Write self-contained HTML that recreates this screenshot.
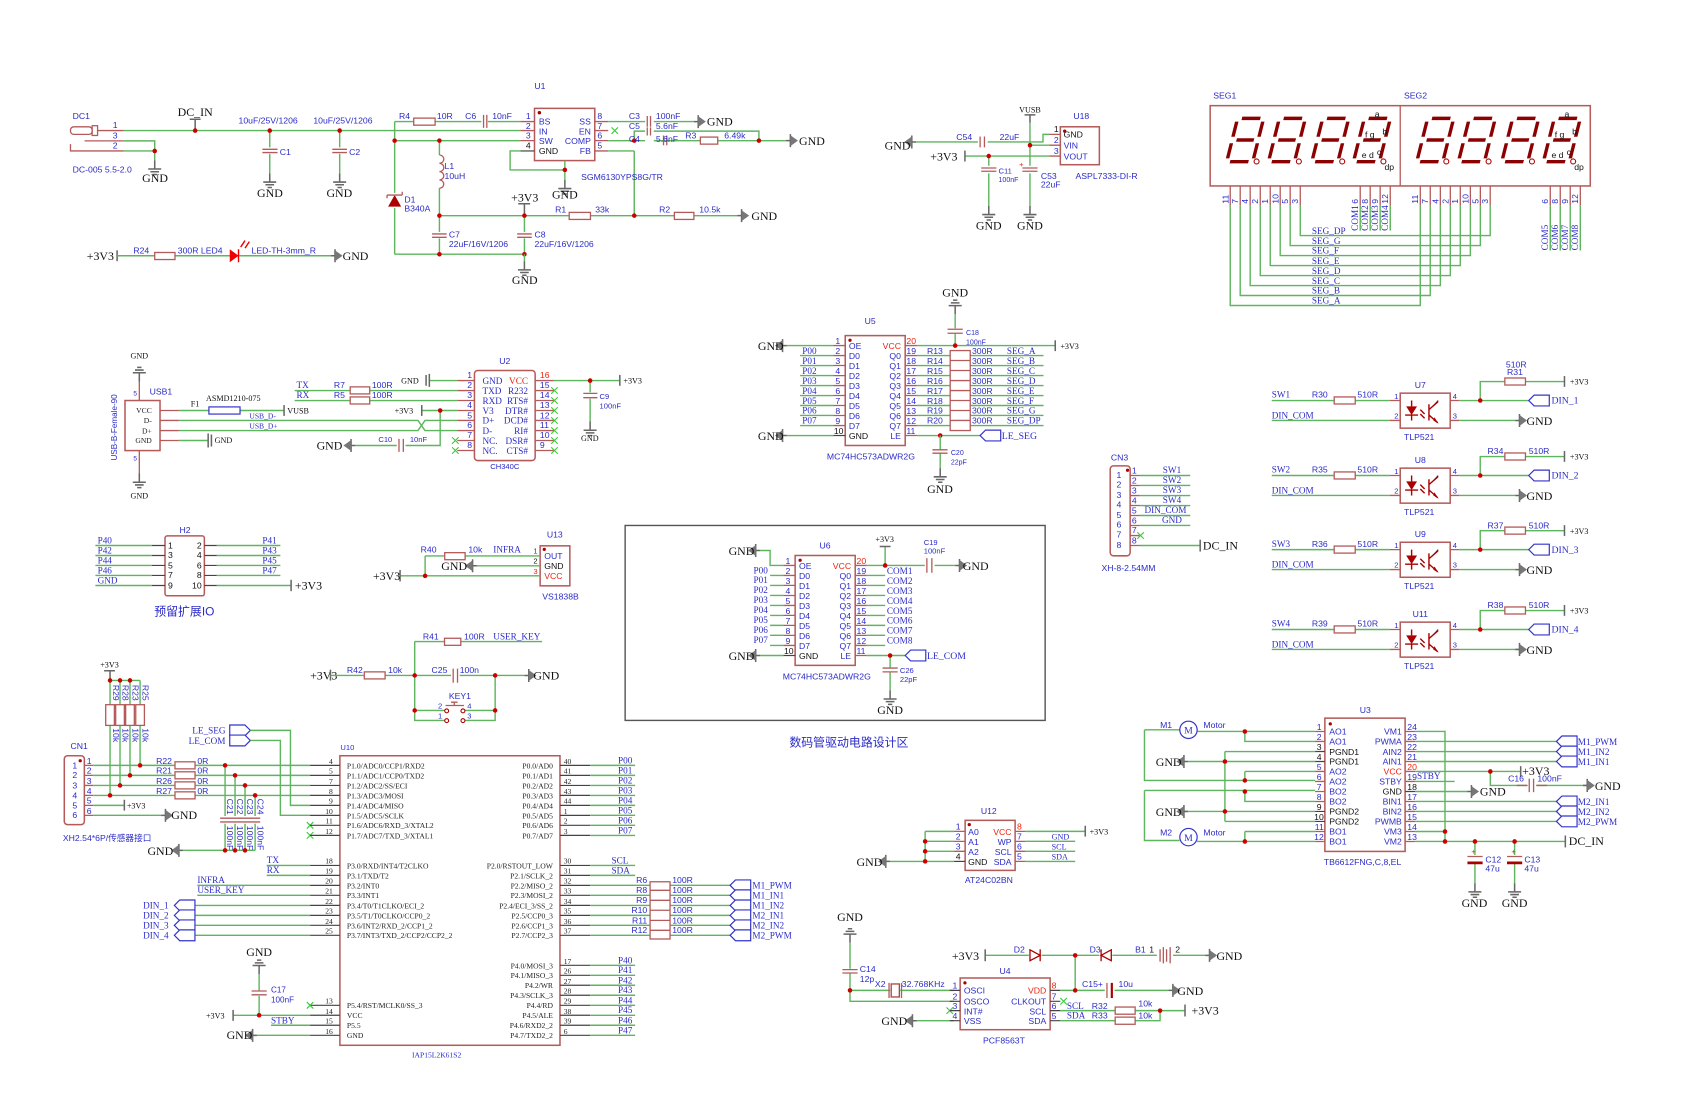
<!DOCTYPE html>
<html><head><meta charset="utf-8"><style>
html,body{margin:0;padding:0;background:#fff;}
svg{display:block}
.w{stroke:#5db55d;stroke-width:1.3;fill:none}
.p{stroke:#b45a5a;stroke-width:1.2;fill:none}
.q{stroke:#444;stroke-width:1.1;fill:none}
.bx{stroke:#b45a5a;stroke-width:1.4;fill:#fff}
.g{stroke:#666;stroke-width:1.4;fill:none}
.x{stroke:#3c3;stroke-width:1}
.rs{stroke:#b45a5a;stroke-width:1.2;fill:#fff}
.tg{stroke:#33c;stroke-width:1.1;fill:#fff}
text{font-family:"Liberation Sans","Noto Sans CJK SC",sans-serif;font-size:8px;fill:#2b2bc8}
.s{font-family:"Liberation Serif","Noto Serif CJK SC",serif;font-size:8.5px}
.k{font-family:"Liberation Serif",serif;font-size:11px;fill:#111}
.ks{font-family:"Liberation Serif",serif;font-size:7.5px;fill:#111}
.bk{fill:#111}
.rd{fill:#e21}
.pl{font-family:"Liberation Serif",serif;font-size:7px;fill:#222}
.m{text-anchor:middle}.e{text-anchor:end}
.seg{stroke:#8b0000;stroke-width:3.2;stroke-linecap:butt;fill:none}
</style></head><body>
<svg width="1700" height="1101" viewBox="0 0 1568 1016" preserveAspectRatio="none" xmlns="http://www.w3.org/2000/svg">
<defs>
<g id="gd"><path class="g" d="M0,0V8M-6,8H6M-4,10.5H4M-2,13H2"/></g>
<g id="gu"><path class="g" d="M0,0V-8M-6,-8H6M-4,-10.5H4M-2,-13H2"/></g>
<g id="al"><path class="g" d="M0,0H-4M-4,-6V6"/><path d="M-4,-5L-11,0L-4,5Z" fill="#777"/></g>
<g id="ar"><path class="g" d="M0,0H4M4,-6V6"/><path d="M4,-5L11,0L4,5Z" fill="#777"/></g>
<g id="dot"><circle r="2.1" fill="#c00"/></g>
<g id="tagL"><path class="tg" d="M0,0L5,-5H19V5H5Z"/></g>
<g id="tagR"><path class="tg" d="M0,-5H14L19,0L14,5H0Z"/></g>
<g id="dg"><path class="seg" d="M-8,-20H9M-8,0H8M-9,20H8M-12,-17V-3M12,-17V-3M-12,3V17M12,3V17"/></g>
<g id="xm"><path class="x" d="M-3,-3L3,3M-3,3L3,-3"/></g>
</defs>

<!-- ===== TOP LEFT: power ===== -->
<text x="67" y="110">DC1</text>
<rect x="65" y="117" width="20" height="7" class="p" rx="3"/><rect x="85" y="116" width="5" height="9" class="p"/>
<path class="p" d="M90,120.5H114M65,133V139.3H114M78,130H114"/>
<text x="104" y="118">1</text><text x="104" y="128">3</text><text x="104" y="137">2</text>
<path class="w" d="M114,120.5H480M114,130H142.7V139.3M114,139.3H142.7V148"/>
<use href="#dot" x="142.7" y="139.3"/><use href="#gd" x="142.7" y="148"/>
<text x="143" y="168" class="k m">GND</text>
<text x="67" y="159">DC-005 5.5-2.0</text>
<text x="180" y="107" class="k m">DC_IN</text><path class="g" d="M175,110H185M180,110V120.5"/><use href="#dot" x="180" y="120.5"/>
<text x="220" y="114">10uF/25V/1206</text><text x="289" y="114">10uF/25V/1206</text>
<path class="w" d="M248.8,120.5V136M313.3,120.5V136M248.8,142V160M313.3,142V160"/>
<path class="p" d="M242,137.8H256M242,140.8H256M306.5,137.8H320M306.5,140.8H320"/>
<use href="#dot" x="248.8" y="120.5"/><use href="#dot" x="313.3" y="120.5"/>
<use href="#gd" x="248.8" y="160"/><use href="#gd" x="313.3" y="160"/>
<text x="258" y="143">C1</text><text x="322" y="143">C2</text>
<text x="249" y="182" class="k m">GND</text><text x="313" y="182" class="k m">GND</text>
<path class="w" d="M364,112.2H480M364,112.2V234.6M364,129.8H480M405.3,129.8V143M405.3,173.7V234.6M364,234.6H483.7M405.3,199H585M483.7,199V234.6M585,139.3V199H680"/>
<rect class="rs" x="381.6" y="109" width="19.7" height="6.5"/><text x="368" y="110">R4</text><text x="403" y="110">10R</text>
<rect x="444" y="106" width="6" height="12" fill="#fff"/><path class="p" d="M446,106V118M449,106V118"/>
<text x="429" y="110">C6</text><text x="454" y="110">10nF</text>
<use href="#dot" x="364" y="129.8"/><use href="#dot" x="405.3" y="129.8"/>
<path class="p" d="M405.3,143a4,3.8 0 0 1 0,7.7a4,3.8 0 0 1 0,7.7a4,3.8 0 0 1 0,7.7a4,3.8 0 0 1 0,7.6"/>
<text x="410" y="156">L1</text><text x="410" y="165">10uH</text>
<rect x="358" y="178" width="12" height="14" fill="#fff"/><path d="M358,190.7H370L364,180Z" fill="#a00"/><path class="p" d="M357,180H371M357,180V183M371,180V177"/>
<text x="373" y="187">D1</text><text x="373" y="195">B340A</text>
<path class="g" d="M478,188H489M483.7,188V199"/><text x="484" y="186" class="k m">+3V3</text>
<use href="#dot" x="405.3" y="199"/><use href="#dot" x="483.7" y="199"/><use href="#dot" x="585" y="199"/>
<rect class="rs" x="525" y="196" width="19.6" height="6.5"/><text x="512" y="196">R1</text><text x="549" y="196">33k</text>
<rect class="rs" x="622" y="196" width="18" height="6.5"/><text x="608" y="196">R2</text><text x="645" y="196">10.5k</text>
<use href="#ar" x="680" y="199"/><text x="693" y="203" class="k">GND</text>
<rect x="398" y="214" width="15" height="6" fill="#fff"/><rect x="476" y="214" width="15" height="6" fill="#fff"/>
<path class="p" d="M398.5,215.9H412M398.5,219H412M477,215.9H490.5M477,219H490.5"/>
<text x="414" y="219">C7</text><text x="414" y="228">22uF/16V/1206</text>
<text x="493" y="219">C8</text><text x="493" y="228">22uF/16V/1206</text>
<use href="#dot" x="405.3" y="234.6"/><use href="#dot" x="483.7" y="234.6"/>
<path class="w" d="M483.7,234.6V241"/><use href="#gd" x="483.7" y="241"/><text x="484" y="262" class="k m">GND</text>
<!-- LED row -->
<text x="80" y="240" class="k">+3V3</text><path class="g" d="M108,231V241"/>
<path class="w" d="M108,236H305"/>
<rect class="rs" x="142.7" y="233" width="18.7" height="6.5"/><text x="123" y="234">R24</text><text x="164" y="234">300R LED4</text>
<path d="M211.9,230V242L220,236Z" fill="#e00"/><path stroke="#e00" stroke-width="1.3" d="M220,230V242M222,228L226,222M226,229L230,223"/>
<text x="232" y="234">LED-TH-3mm_R</text>
<use href="#ar" x="305" y="236"/><text x="316" y="240" class="k">GND</text>
<!-- U1 -->
<text x="498" y="82" class="m">U1</text>
<rect class="bx" x="493" y="100" width="55.6" height="48.2"/><circle cx="497.5" cy="104" r="1.6" fill="#a00"/>
<path class="p" d="M480,112.2H493M480,120.5H493M480,129.8H493M548.6,112.2H561M548.6,120.5H561M548.6,129.8H561M548.6,139.3H561"/>
<path class="q" d="M480,139.3H493"/>
<text x="485" y="110">1</text><text x="485" y="119">2</text><text x="485" y="128">3</text><text x="485" y="137" class="bk">4</text>
<text x="497" y="115">BS</text><text x="497" y="124">IN</text><text x="497" y="133">SW</text><text x="497" y="142" class="bk">GND</text>
<text x="545" y="115" class="e">SS</text><text x="545" y="124" class="e">EN</text><text x="545" y="133" class="e">COMP</text><text x="545" y="142" class="e">FB</text>
<text x="551" y="110">8</text><text x="551" y="119">7</text><text x="551" y="128">6</text><text x="551" y="137">5</text>
<path class="w" d="M480,139.3H470.5V156.8H521M521,148.2V166"/><use href="#dot" x="521" y="156.8"/><use href="#gd" x="521" y="166"/>
<text x="521" y="183" class="k m">GND</text>
<text x="536" y="166">SGM6130YPS8G/TR</text>
<use href="#xm" x="567" y="120.5"/>
<path class="w" d="M561,112.2H640M561,129.8H648M585,129.8V121H700V129.8M662,129.8H725M561,139.3H585"/>
<use href="#dot" x="585" y="129.8"/><use href="#dot" x="700" y="129.8"/>
<rect x="595" y="107" width="8" height="28" fill="#fff"/>
<path class="p" d="M597,107V117M600,107V117M597,117.5V125M600,117.5V125M612,125V134M615,125V134"/>
<text x="580" y="110">C3</text><text x="605" y="110">100nF</text>
<text x="580" y="119">C5</text><text x="605" y="119">5.6nF</text>
<text x="580" y="131">C4</text><text x="605" y="131">5.6nF</text>
<use href="#ar" x="640" y="112.2"/><text x="652" y="116" class="k">GND</text>
<rect class="rs" x="646" y="126.5" width="16" height="6.5"/><text x="632" y="128">R3</text><text x="668" y="128">6.49k</text>
<use href="#ar" x="725" y="129.8"/><text x="737" y="134" class="k">GND</text>

<!-- ===== U18 ===== -->
<text x="990" y="110">U18</text>
<rect class="bx" x="978" y="117" width="36" height="35"/><circle cx="982" cy="121" r="1.5" fill="#a00"/>
<text x="981" y="127" class="bk">GND</text><text x="981" y="137">VIN</text><text x="981" y="147">VOUT</text>
<path class="p" d="M968,124H978M968,134H978M968,144H978"/>
<text x="972" y="122" class="bk">1</text><text x="972" y="132">2</text><text x="972" y="142">3</text>
<text x="950" y="104" class="ks m">VUSB</text><path class="g" d="M945,106H955M950,106V113"/>
<path class="w" d="M950,113V190M950,134H968M845,131H962V124H968M890,144H968M912,144V190"/>
<use href="#al" x="845" y="131"/><text x="816" y="138" class="k">GND</text>
<rect x="902" y="126" width="9" height="10" fill="#fff"/><path class="p" d="M904,126V136M908,126V136"/>
<text x="882" y="129">C54</text><text x="922" y="129">22uF</text>
<text x="858" y="148" class="k">+3V3</text><path class="g" d="M890,139V149"/>
<use href="#dot" x="912" y="144"/><use href="#dot" x="950" y="134"/>
<rect x="904" y="153" width="16" height="7" fill="#fff"/><rect x="942" y="153" width="16" height="7" fill="#fff"/>
<path class="p" d="M905,155H919M905,158H919M943,155H957M943,158H957"/><text x="940" y="154" class="rd" style="font-size:7px">+</text>
<text x="921" y="160" style="font-size:7px">C11</text><text x="921" y="168" style="font-size:6.5px">100nF</text>
<text x="960" y="165">C53</text><text x="960" y="173">22uF</text>
<use href="#gd" x="912" y="190"/><use href="#gd" x="950" y="190"/>
<text x="912" y="212" class="k m">GND</text><text x="950" y="212" class="k m">GND</text>
<text x="992" y="165">ASPL7333-DI-R</text>

<!-- ===== SEG displays ===== -->
<text x="1119" y="91">SEG1</text><text x="1295" y="91">SEG2</text>
<rect class="bx" x="1116.2" y="97.5" width="350.6" height="74.1" fill="none"/><path class="p" d="M1291.5,97.5V171.6"/>
<g transform="translate(1148.5,129.2) skewX(-14)"><use href="#dg"/></g><circle cx="1159" cy="149" r="2.3" fill="none" stroke="#a00"/>
<g transform="translate(1187,129.2) skewX(-14)"><use href="#dg"/></g><circle cx="1198" cy="149" r="2.3" fill="none" stroke="#a00"/>
<g transform="translate(1227,129.2) skewX(-14)"><use href="#dg"/></g><circle cx="1238" cy="149" r="2.3" fill="none" stroke="#a00"/>
<g transform="translate(1265.4,129.2) skewX(-14)"><use href="#dg"/></g><circle cx="1276" cy="149" r="2.3" fill="none" stroke="#a00"/>
<g transform="translate(1323.8,129.2) skewX(-14)"><use href="#dg"/></g><circle cx="1334" cy="149" r="2.3" fill="none" stroke="#a00"/>
<g transform="translate(1362.2,129.2) skewX(-14)"><use href="#dg"/></g><circle cx="1373" cy="149" r="2.3" fill="none" stroke="#a00"/>
<g transform="translate(1402.2,129.2) skewX(-14)"><use href="#dg"/></g><circle cx="1413" cy="149" r="2.3" fill="none" stroke="#a00"/>
<g transform="translate(1440.6,129.2) skewX(-14)"><use href="#dg"/></g><circle cx="1451" cy="149" r="2.3" fill="none" stroke="#a00"/>
<g class="bk" style="font-size:7.5px"><text x="1268" y="108" class="bk">a</text><text x="1259" y="127" class="bk">f g</text><text x="1275" y="124" class="bk">b</text><text x="1256" y="146" class="bk">e d</text><text x="1270" y="143" class="bk">c</text><text x="1277" y="157" class="bk">dp</text>
<text x="1443" y="108" class="bk">a</text><text x="1434" y="127" class="bk">f g</text><text x="1450" y="124" class="bk">b</text><text x="1431" y="146" class="bk">e d</text><text x="1445" y="143" class="bk">c</text><text x="1452" y="157" class="bk">dp</text></g>
<path class="p" d="M1134.7,171.6V189.7M1143.9,171.6V189.7M1153.1,171.6V189.7M1162.4,171.6V189.7M1171.6,171.6V189.7M1180.8,171.6V189.7M1190,171.6V189.7M1199.3,171.6V189.7M1254.6,171.6V189.7M1263.8,171.6V189.7M1273,171.6V189.7M1282.3,171.6V189.7M1310,171.6V189.7M1319.2,171.6V189.7M1328.5,171.6V189.7M1337.7,171.6V189.7M1346.9,171.6V189.7M1356.2,171.6V189.7M1365.4,171.6V189.7M1374.5,171.6V189.7M1429.9,171.6V189.7M1439.1,171.6V189.7M1448.3,171.6V189.7M1457.6,171.6V189.7"/>
<path class="w" d="M1199.3,189.7V217.4H1374.5V189.7M1190,189.7V226.6H1365.4V189.7M1180.8,189.7V235.8H1356.2V189.7M1171.6,189.7V245.1H1346.9V189.7M1162.4,189.7V254.3H1337.7V189.7M1153.1,189.7V263.5H1328.5V189.7M1143.9,189.7V272.7H1319.2V189.7M1134.7,189.7V281.9H1310V189.7M1254.6,189.7V212.8M1263.8,189.7V212.8M1273,189.7V212.8M1282.3,189.7V212.8M1429.9,189.7V231.2M1439.1,189.7V231.2M1448.3,189.7V231.2M1457.6,189.7V231.2"/>
<g class="s"><text x="1210" y="216" class="s">SEG_DP</text><text x="1210" y="225" class="s">SEG_G</text><text x="1210" y="234" class="s">SEG_F</text><text x="1210" y="243.5" class="s">SEG_E</text><text x="1210" y="252.7" class="s">SEG_D</text><text x="1210" y="262" class="s">SEG_C</text><text x="1210" y="271" class="s">SEG_B</text><text x="1210" y="280.3" class="s">SEG_A</text></g>
<g style="font-size:8px">
<text transform="translate(1133,188) rotate(-90)">11</text><text transform="translate(1142,188) rotate(-90)">7</text><text transform="translate(1151,188) rotate(-90)">4</text><text transform="translate(1160.5,188) rotate(-90)">2</text><text transform="translate(1169.7,188) rotate(-90)">1</text><text transform="translate(1179,188) rotate(-90)">10</text><text transform="translate(1188,188) rotate(-90)">5</text><text transform="translate(1197.4,188) rotate(-90)">3</text>
<text transform="translate(1252.7,188) rotate(-90)">6</text><text transform="translate(1262,188) rotate(-90)">8</text><text transform="translate(1271,188) rotate(-90)">9</text><text transform="translate(1280.4,188) rotate(-90)">12</text>
<text transform="translate(1308,188) rotate(-90)">11</text><text transform="translate(1317.3,188) rotate(-90)">7</text><text transform="translate(1326.6,188) rotate(-90)">4</text><text transform="translate(1335.8,188) rotate(-90)">2</text><text transform="translate(1345,188) rotate(-90)">1</text><text transform="translate(1354.3,188) rotate(-90)">10</text><text transform="translate(1363.5,188) rotate(-90)">5</text><text transform="translate(1372.6,188) rotate(-90)">3</text>
<text transform="translate(1428,188) rotate(-90)">6</text><text transform="translate(1437.2,188) rotate(-90)">8</text><text transform="translate(1446.4,188) rotate(-90)">9</text><text transform="translate(1455.7,188) rotate(-90)">12</text>
</g>
<g class="s" style="font-size:7.5px"><text transform="translate(1252.7,213) rotate(-90)" class="s">COM1</text><text transform="translate(1262,213) rotate(-90)" class="s">COM2</text><text transform="translate(1271,213) rotate(-90)" class="s">COM3</text><text transform="translate(1280.4,213) rotate(-90)" class="s">COM4</text>
<text transform="translate(1428,231) rotate(-90)" class="s">COM5</text><text transform="translate(1437.2,231) rotate(-90)" class="s">COM6</text><text transform="translate(1446.4,231) rotate(-90)" class="s">COM7</text><text transform="translate(1455.7,231) rotate(-90)" class="s">COM8</text></g>

<!-- ===== USB / CH340 ===== -->
<text transform="translate(108,425) rotate(-90)" style="font-size:7.5px">USB-B-Female-90</text>
<text x="128.5" y="331" class="ks m">GND</text><use href="#gu" x="128.5" y="352"/><path class="p" d="M128.5,352V369.6M128.5,415.8V437"/>
<text x="123" y="365" style="font-size:6px">5</text><text x="123" y="425" style="font-size:6px">5</text>
<use href="#gd" x="128.5" y="437"/><text x="128.5" y="460" class="ks m">GND</text>
<text x="138" y="364">USB1</text>
<rect class="bx" x="115.3" y="369.6" width="32.3" height="46.2"/>
<g class="pl" style="font-size:7.5px"><text x="140" y="381" class="pl e">VCC</text><text x="140" y="390.5" class="pl e">D-</text><text x="140" y="400" class="pl e">D+</text><text x="140" y="409" class="pl e">GND</text></g>
<path class="p" d="M147.6,378.8H165M147.6,388H165M147.6,397.3H165M147.6,406.5H165"/>
<path class="w" d="M165,378.8H262M165,388H385.5L392,397.3H421.8M165,397.3H385.5L392,388H421.8M165,406.5H192"/>
<path class="g" d="M192,400V413M195,401V412"/><text x="198" y="409" class="ks">GND</text>
<text x="176" y="375" class="ks">F1</text><text x="190" y="370" class="ks">ASMD1210-075</text>
<rect x="192.7" y="375.5" width="28.7" height="6.6" fill="#fff" stroke="#33c" stroke-width="1.1"/>
<path class="g" d="M262,373.8V383.8"/><text x="265" y="381.5" class="ks">VUSB</text>
<text x="230" y="386" class="s" style="font-size:7px">USB_D-</text><text x="230" y="395.5" class="s" style="font-size:7px">USB_D+</text>
<text x="465.6" y="336" class="m">U2</text>
<rect class="bx" x="437.6" y="341.9" width="56" height="83.1" rx="3"/>
<path class="p" d="M421.8,351.2H437.6M421.8,360.4H437.6M421.8,369.6H437.6M421.8,378.8H437.6M421.8,388H437.6M421.8,397.3H437.6M421.8,406.5H437.6M421.8,415.7H437.6M493.6,351.2H510.7M493.6,360.4H510.7M493.6,369.6H510.7M493.6,378.8H510.7M493.6,388H510.7M493.6,397.3H510.7M493.6,406.5H510.7M493.6,415.7H510.7"/>
<g style="font-size:7px"><text x="431" y="349">1</text><text x="431" y="358">2</text><text x="431" y="367.5">3</text><text x="431" y="376.5">4</text><text x="431" y="386">5</text><text x="431" y="395">6</text><text x="431" y="404">7</text><text x="431" y="413.5">8</text>
<text x="498" y="349" class="rd">16</text><text x="498" y="358">15</text><text x="498" y="367.5">14</text><text x="498" y="376.5">13</text><text x="498" y="386">12</text><text x="498" y="395">11</text><text x="498" y="404">10</text><text x="498" y="413.5">9</text></g>
<g style="font-size:7.5px"><text x="445" y="354.5" class="s">GND</text><text x="445" y="363.7" class="s">TXD</text><text x="445" y="373" class="s">RXD</text><text x="445" y="382" class="s">V3</text><text x="445" y="391" class="s">D+</text><text x="445" y="400.5" class="s">D-</text><text x="445" y="409.7" class="s">NC.</text><text x="445" y="419" class="s">NC.</text>
<text x="487" y="354.5" class="s e rd">VCC</text><text x="487" y="363.7" class="s e">R232</text><text x="487" y="373" class="s e">RTS#</text><text x="487" y="382" class="s e">DTR#</text><text x="487" y="391" class="s e">DCD#</text><text x="487" y="400.5" class="s e">RI#</text><text x="487" y="409.7" class="s e">DSR#</text><text x="487" y="419" class="s e">CTS#</text></g>
<use href="#xm" x="511.4" y="360.4"/><use href="#xm" x="511.4" y="369.6"/><use href="#xm" x="511.4" y="378.8"/><use href="#xm" x="511.4" y="388"/><use href="#xm" x="511.4" y="397.3"/><use href="#xm" x="511.4" y="406.5"/><use href="#xm" x="511.4" y="415.7"/>
<use href="#xm" x="420" y="406.5"/><use href="#xm" x="420" y="415.7"/>
<text x="465.6" y="433" class="m" style="font-size:7px">CH340C</text>
<path class="w" d="M396,351.2H421.8M271.8,360.4H421.8M271.8,369.6H421.8M389,378.8H421.8M406,378.8V411.1H327.8"/>
<path class="g" d="M396,345V357M393,346V356"/><text x="370" y="354" class="ks">GND</text>
<rect class="rs" x="323" y="357" width="18" height="6.5"/><rect class="rs" x="323" y="366.3" width="18" height="6.5"/>
<text x="273.5" y="358" class="s">TX</text><text x="273.5" y="367.5" class="s">RX</text>
<text x="308" y="358">R7</text><text x="308" y="367.5">R5</text><text x="343" y="358">100R</text><text x="343" y="367.5">100R</text>
<path class="g" d="M389,373.8V383.8"/><text x="364" y="381.5" class="ks">+3V3</text>
<use href="#dot" x="406" y="378.8"/>
<rect x="366" y="405" width="8" height="12" fill="#fff"/><path class="p" d="M368,405V417M372,405V417"/>
<text x="349" y="408" style="font-size:7px">C10</text><text x="378" y="408" style="font-size:7px">10nF</text>
<use href="#al" x="327.8" y="411.1"/><text x="292" y="415" class="k">GND</text>
<path class="w" d="M510.7,351.2H571.7M544.3,351.2V362M544.3,368V389"/><use href="#dot" x="544.3" y="351.2"/>
<path class="g" d="M571.7,346V356"/><text x="575" y="354" class="ks">+3V3</text>
<path class="p" d="M538,363H551M538,367H551"/><text x="553" y="368" style="font-size:7px">C9</text><text x="553" y="377" style="font-size:7px">100nF</text>
<use href="#gd" x="544.3" y="389"/><text x="544" y="407" class="ks m">GND</text>

<!-- ===== H2 ===== -->
<text x="170.7" y="492" class="m">H2</text>
<rect class="bx" x="152.2" y="494.5" width="36.3" height="55.3" rx="2"/>
<g class="bk" style="font-size:8.5px"><text x="155" y="506" class="bk">1</text><text x="155" y="515" class="bk">3</text><text x="155" y="524.5" class="bk">5</text><text x="155" y="533.5" class="bk">7</text><text x="155" y="543" class="bk">9</text>
<text x="186" y="506" class="bk e">2</text><text x="186" y="515" class="bk e">4</text><text x="186" y="524.5" class="bk e">6</text><text x="186" y="533.5" class="bk e">8</text><text x="186" y="543" class="bk e">10</text></g>
<path class="q" d="M140,503.4H152.2M140,512.6H152.2M140,521.8H152.2M140,531H152.2M140,540.3H152.2M188.5,503.4H200M188.5,512.6H200M188.5,521.8H200M188.5,531H200M188.5,540.3H200"/>
<path class="w" d="M88,503.4H140M88,512.6H140M88,521.8H140M88,531H140M88,540.3H140M200,503.4H258.6M200,512.6H258.6M200,521.8H258.6M200,531H258.6M200,540.3H268.5"/>
<g class="s"><text x="90" y="501.5" class="s">P40</text><text x="90" y="510.7" class="s">P42</text><text x="90" y="520" class="s">P44</text><text x="90" y="529" class="s">P46</text><text x="90" y="538.5" class="s">GND</text>
<text x="242" y="501.5" class="s">P41</text><text x="242" y="510.7" class="s">P43</text><text x="242" y="520" class="s">P45</text><text x="242" y="529" class="s">P47</text></g>
<path class="g" d="M268.5,535V545.5"/><text x="272" y="544" class="k">+3V3</text>
<text x="170" y="568" class="m" style="font-size:11px">预留扩展IO</text>

<!-- ===== U13 ===== -->
<text x="511.7" y="496" class="m">U13</text>
<rect class="bx" x="498.2" y="503.7" width="27.4" height="36.9"/><circle cx="502" cy="507" r="1.5" fill="#a00"/>
<text x="502" y="516">OUT</text><text x="502" y="525" class="bk">GND</text><text x="502" y="534.5" class="rd">VCC</text>
<text x="492" y="511" style="font-size:7px">1</text><text x="492" y="520" class="bk" style="font-size:7px">2</text><text x="492" y="529.5" class="rd" style="font-size:7px">3</text>
<path class="w" d="M392.1,513H498.2M439.9,522.1H498.2M369,531.4H498.2M392.1,513V531.4"/>
<rect class="rs" x="410.2" y="510" width="18.8" height="6.5"/>
<text x="388" y="510">R40</text><text x="432" y="510">10k</text><text x="455" y="510" class="s">INFRA</text>
<use href="#al" x="439.9" y="522.1"/><text x="407" y="526" class="k">GND</text>
<path class="g" d="M369,526V536.5"/><text x="344" y="535" class="k">+3V3</text><use href="#dot" x="392.1" y="531.4"/>
<text x="517" y="553" class="m">VS1838B</text>

<!-- ===== KEY ===== -->
<text x="286" y="627" class="k">+3V3</text><path class="g" d="M304.8,618V628"/>
<path class="w" d="M304.8,623.3H483.7M382.5,592H412M382.5,592V664.8H410.5M382.5,655.6H410.5M456.7,623.3V664.8H428.7M456.7,655.6H428.7M425,592H500"/>
<rect class="rs" x="336" y="620" width="19.2" height="6.5"/><text x="320" y="621">R42</text><text x="358" y="621">10k</text>
<rect x="416" y="617" width="8" height="13" fill="#fff"/><path class="p" d="M418,617V630M422,617V630"/><text x="398" y="621">C25</text><text x="424" y="621">100n</text>
<use href="#dot" x="382.5" y="623.3"/><use href="#dot" x="456.7" y="623.3"/><use href="#dot" x="382.5" y="655.6"/><use href="#dot" x="456.7" y="655.6"/>
<use href="#ar" x="483.7" y="623.3"/><text x="492" y="627" class="k">GND</text>
<rect class="rs" x="410" y="589" width="15" height="6.5"/><text x="390" y="590">R41</text><text x="428" y="590">100R</text><text x="455" y="590" class="s">USER_KEY</text>
<text x="414" y="645">KEY1</text>
<path class="p" d="M411,651H428M419,651V648M416,648H422"/>
<circle cx="412" cy="656" r="1.8" fill="#fff" stroke="#a00"/><circle cx="427" cy="656" r="1.8" fill="#fff" stroke="#a00"/><circle cx="412" cy="665" r="1.8" fill="#fff" stroke="#a00"/><circle cx="427" cy="665" r="1.8" fill="#fff" stroke="#a00"/>
<text x="404" y="654" style="font-size:7px">2</text><text x="404" y="663" style="font-size:7px">1</text><text x="431" y="654" style="font-size:7px">4</text><text x="431" y="663" style="font-size:7px">3</text>

<!-- ===== CN1 / U10 ===== -->
<text x="101" y="616" class="ks m">+3V3</text><path class="g" d="M96,619H106M101.5,619V627.9"/>
<path class="w" d="M101.5,627.9H129.2M101.5,627.9V650.3M110.7,627.9V650.3M119.9,627.9V650.3M129.2,627.9V650.3M101.5,669.4V734M110.7,669.4V724.8M119.9,669.4V715.5M129.2,669.4V706.3"/>
<use href="#dot" x="101.5" y="627.9"/><use href="#dot" x="110.7" y="627.9"/><use href="#dot" x="119.9" y="627.9"/>
<rect class="rs" x="97.5" y="650.3" width="8" height="19.1"/><rect class="rs" x="106.7" y="650.3" width="8" height="19.1"/><rect class="rs" x="115.9" y="650.3" width="8" height="19.1"/><rect class="rs" x="125.2" y="650.3" width="8" height="19.1"/>
<g style="font-size:7px"><text transform="translate(104,632) rotate(90)">R29</text><text transform="translate(113,632) rotate(90)">R28</text><text transform="translate(122,632) rotate(90)">R23</text><text transform="translate(131.5,632) rotate(90)">R25</text>
<text transform="translate(104,672) rotate(90)">10k</text><text transform="translate(113,672) rotate(90)">10k</text><text transform="translate(122,672) rotate(90)">10k</text><text transform="translate(131.5,672) rotate(90)">10k</text></g>
<text x="65" y="691">CN1</text>
<rect class="bx" x="59.3" y="697.4" width="18.5" height="63.6" rx="3"/><circle cx="74" cy="702" r="1.5" fill="#a00"/>
<g style="font-size:8px"><text x="69" y="709" class="m">1</text><text x="69" y="718" class="m">2</text><text x="69" y="727.5" class="m">3</text><text x="69" y="737" class="m">4</text><text x="69" y="746" class="m">5</text><text x="69" y="755" class="m">6</text>
<text x="80" y="705">1</text><text x="80" y="714">2</text><text x="80" y="723.5">3</text><text x="80" y="732.5">4</text><text x="80" y="741.5">5</text><text x="80" y="751">6</text></g>
<path class="p" d="M77.8,706.3H86M77.8,715.5H86M77.8,724.8H86M77.8,734H86M77.8,743.2H86M77.8,752.4H86"/>
<path class="w" d="M86,706.3H161.4M86,715.5H161.4M86,724.8H161.4M86,734H161.4M179.9,706.3H286M179.9,715.5H286M179.9,724.8H286M179.9,734H286M86,743.2H114.7M86,752.4H148.6"/>
<use href="#dot" x="129.2" y="706.3"/><use href="#dot" x="119.9" y="715.5"/><use href="#dot" x="110.7" y="724.8"/><use href="#dot" x="101.5" y="734"/>
<rect class="rs" x="161.4" y="703" width="18.5" height="6.5"/><rect class="rs" x="161.4" y="712.2" width="18.5" height="6.5"/><rect class="rs" x="161.4" y="721.5" width="18.5" height="6.5"/><rect class="rs" x="161.4" y="730.7" width="18.5" height="6.5"/>
<text x="144" y="705">R22</text><text x="144" y="714">R21</text><text x="144" y="723.5">R26</text><text x="144" y="732.5">R27</text>
<text x="182" y="705">0R</text><text x="182" y="714">0R</text><text x="182" y="723.5">0R</text><text x="182" y="732.5">0R</text>
<path class="g" d="M114.7,738V748"/><text x="117" y="746" class="ks">+3V3</text>
<use href="#ar" x="148.6" y="752.4"/><text x="158" y="756" class="k">GND</text>
<text x="58" y="776">XH2.54*6P/传感器接口</text>
<path class="w" d="M207.6,706.3V753M216.8,715.5V753M226,724.8V753M235.3,734V753M207.6,760V784.7M216.8,760V784.7M226,760V784.7M235.3,760V784.7M169,784.7H235.3"/>
<use href="#dot" x="207.6" y="706.3"/><use href="#dot" x="216.8" y="715.5"/><use href="#dot" x="226" y="724.8"/><use href="#dot" x="235.3" y="734"/>
<use href="#dot" x="207.6" y="784.7"/><use href="#dot" x="216.8" y="784.7"/><use href="#dot" x="226" y="784.7"/>
<path class="p" d="M203,755H240M203,758.5H240"/>
<g style="font-size:6.5px"><text transform="translate(209.5,737) rotate(90)">C21</text><text transform="translate(218.7,737) rotate(90)">C22</text><text transform="translate(228,737) rotate(90)">C23</text><text transform="translate(237.3,737) rotate(90)">C24</text>
<text transform="translate(209.5,762) rotate(90)">100nF</text><text transform="translate(218.7,762) rotate(90)">100nF</text><text transform="translate(228,762) rotate(90)">100nF</text><text transform="translate(237.3,762) rotate(90)">100nF</text></g>
<use href="#al" x="169" y="784.7"/><text x="136" y="789" class="k">GND</text>
<use href="#tagR" x="211.9" y="674"/><use href="#tagR" x="211.9" y="683.3"/>
<text x="208" y="677" class="s e">LE_SEG</text><text x="208" y="686.5" class="s e">LE_COM</text>
<path class="w" d="M230.9,674H267.9V743.2H286M230.9,683.3H258.6V752.4H286"/>
<use href="#xm" x="286" y="761.6"/><use href="#xm" x="286" y="770.9"/>
<text x="314" y="692" style="font-size:7px">U10</text>
<rect class="bx" x="313.5" y="697.4" width="203" height="267.2" fill="none"/>
<path class="q" d="M286,706.3H313.5M286,715.5H313.5M286,724.8H313.5M286,734H313.5M286,743.2H313.5M286,752.4H313.5M286,761.6H313.5M286,770.9H313.5M286,798.6H313.5M286,807.8H313.5M286,817H313.5M286,826.2H313.5M286,835.5H313.5M286,844.7H313.5M286,853.9H313.5M286,863.1H313.5M286,927.7H313.5M286,936.9H313.5M286,946.1H313.5M286,955.4H313.5
M516.5,706.3H544.3M516.5,715.5H544.3M516.5,724.8H544.3M516.5,734H544.3M516.5,743.2H544.3M516.5,752.4H544.3M516.5,761.6H544.3M516.5,770.9H544.3M516.5,798.6H544.3M516.5,807.8H544.3M516.5,817H544.3M516.5,826.2H544.3M516.5,835.5H544.3M516.5,844.7H544.3M516.5,853.9H544.3M516.5,863.1H544.3M516.5,890.8H544.3M516.5,900H544.3M516.5,909.2H544.3M516.5,918.4H544.3M516.5,927.7H544.3M516.5,936.9H544.3M516.5,946.1H544.3M516.5,955.4H544.3"/>
<g class="pl" style="font-size:7px">
<text x="307" y="705" class="pl e">4</text><text x="307" y="714" class="pl e">5</text><text x="307" y="723.5" class="pl e">7</text><text x="307" y="732.5" class="pl e">8</text><text x="307" y="741.5" class="pl e">9</text><text x="307" y="751" class="pl e">10</text><text x="307" y="760" class="pl e">11</text><text x="307" y="769.5" class="pl e">12</text>
<text x="307" y="797" class="pl e">18</text><text x="307" y="806" class="pl e">19</text><text x="307" y="815.5" class="pl e">20</text><text x="307" y="824.5" class="pl e">21</text><text x="307" y="834" class="pl e">22</text><text x="307" y="843" class="pl e">23</text><text x="307" y="852.5" class="pl e">24</text><text x="307" y="861.5" class="pl e">25</text>
<text x="307" y="926" class="pl e">13</text><text x="307" y="935.5" class="pl e">14</text><text x="307" y="944.5" class="pl e">15</text><text x="307" y="954" class="pl e">16</text>
<text x="520" y="705" class="pl">40</text><text x="520" y="714" class="pl">41</text><text x="520" y="723.5" class="pl">42</text><text x="520" y="732.5" class="pl">43</text><text x="520" y="741.5" class="pl">44</text><text x="520" y="751" class="pl">1</text><text x="520" y="760" class="pl">2</text><text x="520" y="769.5" class="pl">3</text>
<text x="520" y="797" class="pl">30</text><text x="520" y="806" class="pl">31</text><text x="520" y="815.5" class="pl">32</text><text x="520" y="824.5" class="pl">33</text><text x="520" y="834" class="pl">34</text><text x="520" y="843" class="pl">35</text><text x="520" y="852.5" class="pl">36</text><text x="520" y="861.5" class="pl">37</text>
<text x="520" y="889.5" class="pl">17</text><text x="520" y="898.5" class="pl">26</text><text x="520" y="908" class="pl">27</text><text x="520" y="917" class="pl">28</text><text x="520" y="926" class="pl">29</text><text x="520" y="935.5" class="pl">38</text><text x="520" y="944.5" class="pl">39</text><text x="520" y="954" class="pl">6</text>
</g>
<g class="pl" style="font-size:7.2px">
<text x="320" y="709" class="pl">P1.0/ADC0/CCP1/RXD2</text><text x="320" y="718.2" class="pl">P1.1/ADC1/CCP0/TXD2</text><text x="320" y="727.5" class="pl">P1.2/ADC2/SS/ECI</text><text x="320" y="736.7" class="pl">P1.3/ADC3/MOSI</text><text x="320" y="745.9" class="pl">P1.4/ADC4/MISO</text><text x="320" y="755.1" class="pl">P1.5/ADC5/SCLK</text><text x="320" y="764.3" class="pl">P1.6/ADC6/RXD_3/XTAL2</text><text x="320" y="773.6" class="pl">P1.7/ADC7/TXD_3/XTAL1</text>
<text x="320" y="801.3" class="pl">P3.0/RXD/INT4/T2CLKO</text><text x="320" y="810.5" class="pl">P3.1/TXD/T2</text><text x="320" y="819.7" class="pl">P3.2/INT0</text><text x="320" y="828.9" class="pl">P3.3/INT1</text><text x="320" y="838.2" class="pl">P3.4/T0/T1CLKO/ECI_2</text><text x="320" y="847.4" class="pl">P3.5/T1/T0CLKO/CCP0_2</text><text x="320" y="856.6" class="pl">P3.6/INT2/RXD_2/CCP1_2</text><text x="320" y="865.8" class="pl">P3.7/INT3/TXD_2/CCP2/CCP2_2</text>
<text x="320" y="930.4" class="pl">P5.4/RST/MCLK0/SS_3</text><text x="320" y="939.6" class="pl">VCC</text><text x="320" y="948.8" class="pl">P5.5</text><text x="320" y="958.1" class="pl">GND</text>
<text x="510" y="709" class="pl e">P0.0/AD0</text><text x="510" y="718.2" class="pl e">P0.1/AD1</text><text x="510" y="727.5" class="pl e">P0.2/AD2</text><text x="510" y="736.7" class="pl e">P0.3/AD3</text><text x="510" y="745.9" class="pl e">P0.4/AD4</text><text x="510" y="755.1" class="pl e">P0.5/AD5</text><text x="510" y="764.3" class="pl e">P0.6/AD6</text><text x="510" y="773.6" class="pl e">P0.7/AD7</text>
<text x="510" y="801.3" class="pl e">P2.0/RSTOUT_LOW</text><text x="510" y="810.5" class="pl e">P2.1/SCLK_2</text><text x="510" y="819.7" class="pl e">P2.2/MISO_2</text><text x="510" y="828.9" class="pl e">P2.3/MOSI_2</text><text x="510" y="838.2" class="pl e">P2.4/ECI_3/SS_2</text><text x="510" y="847.4" class="pl e">P2.5/CCP0_3</text><text x="510" y="856.6" class="pl e">P2.6/CCP1_3</text><text x="510" y="865.8" class="pl e">P2.7/CCP2_3</text>
<text x="510" y="893.5" class="pl e">P4.0/MOSI_3</text><text x="510" y="902.7" class="pl e">P4.1/MISO_3</text><text x="510" y="911.9" class="pl e">P4.2/WR</text><text x="510" y="921.1" class="pl e">P4.3/SCLK_3</text><text x="510" y="930.4" class="pl e">P4.4/RD</text><text x="510" y="939.6" class="pl e">P4.5/ALE</text><text x="510" y="948.8" class="pl e">P4.6/RXD2_2</text><text x="510" y="958.1" class="pl e">P4.7/TXD2_2</text>
</g>
<text x="380" y="976" class="s" style="font-size:7px">IAP15L2K61S2</text>
<path class="w" d="M544.3,706.3H585.8M544.3,715.5H585.8M544.3,724.8H585.8M544.3,734H585.8M544.3,743.2H585.8M544.3,752.4H585.8M544.3,761.6H585.8M544.3,770.9H585.8M544.3,798.6H585.8M544.3,807.8H585.8M544.3,817H673.4M544.3,826.2H673.4M544.3,835.5H673.4M544.3,844.7H673.4M544.3,853.9H673.4M544.3,863.1H673.4M544.3,890.8H585.8M544.3,900H585.8M544.3,909.2H585.8M544.3,918.4H585.8M544.3,927.7H585.8M544.3,936.9H585.8M544.3,946.1H585.8M544.3,955.4H585.8"/>
<g class="s"><text x="570" y="704.5" class="s">P00</text><text x="570" y="713.7" class="s">P01</text><text x="570" y="723" class="s">P02</text><text x="570" y="732.2" class="s">P03</text><text x="570" y="741.4" class="s">P04</text><text x="570" y="750.6" class="s">P05</text><text x="570" y="759.8" class="s">P06</text><text x="570" y="769" class="s">P07</text>
<text x="564" y="797" class="s">SCL</text><text x="564" y="806" class="s">SDA</text>
<text x="570" y="889" class="s">P40</text><text x="570" y="898" class="s">P41</text><text x="570" y="907.5" class="s">P42</text><text x="570" y="916.5" class="s">P43</text><text x="570" y="926" class="s">P44</text><text x="570" y="935" class="s">P45</text><text x="570" y="944.5" class="s">P46</text><text x="570" y="953.5" class="s">P47</text></g>
<rect class="rs" x="599.6" y="813.7" width="18.4" height="52.8"/><path class="p" d="M599.6,821.6H618M599.6,830.8H618M599.6,840H618M599.6,849.3H618M599.6,858.5H618"/>
<text x="597" y="815" class="e">R6</text><text x="597" y="824" class="e">R8</text><text x="597" y="833.5" class="e">R9</text><text x="597" y="842.5" class="e">R10</text><text x="597" y="852" class="e">R11</text><text x="597" y="861" class="e">R12</text>
<text x="620" y="815">100R</text><text x="620" y="824">100R</text><text x="620" y="833.5">100R</text><text x="620" y="842.5">100R</text><text x="620" y="852">100R</text><text x="620" y="861">100R</text>
<use href="#tagL" x="673.4" y="817"/><use href="#tagL" x="673.4" y="826.2"/><use href="#tagL" x="673.4" y="835.5"/><use href="#tagL" x="673.4" y="844.7"/><use href="#tagL" x="673.4" y="853.9"/><use href="#tagL" x="673.4" y="863.1"/>
<g class="s" style="font-size:9px"><text x="694" y="820" class="s">M1_PWM</text><text x="694" y="829.2" class="s">M1_IN1</text><text x="694" y="838.5" class="s">M1_IN2</text><text x="694" y="847.7" class="s">M2_IN1</text><text x="694" y="856.9" class="s">M2_IN2</text><text x="694" y="866.1" class="s">M2_PWM</text></g>
<path class="w" d="M246,798.6H286M246,807.8H286M182,817H286M182,826.2H286M180,835.5H286M180,844.7H286M180,853.9H286M180,863.1H286"/>
<text x="246" y="796.5" class="s">TX</text><text x="246" y="805.7" class="s">RX</text><text x="182" y="815" class="s">INFRA</text><text x="182" y="824.2" class="s">USER_KEY</text>
<use href="#tagL" x="160.8" y="835.5"/><use href="#tagL" x="160.8" y="844.7"/><use href="#tagL" x="160.8" y="853.9"/><use href="#tagL" x="160.8" y="863.1"/>
<g class="s" style="font-size:9px"><text x="132" y="838.5" class="s">DIN_1</text><text x="132" y="847.7" class="s">DIN_2</text><text x="132" y="857" class="s">DIN_3</text><text x="132" y="866.2" class="s">DIN_4</text></g>
<!-- C17 -->
<text x="239" y="882" class="k m">GND</text><use href="#gu" x="239" y="899"/>
<path class="w" d="M239,899V914M239,919V936.9H286M215,936.9H239M250,946.1H286M237,955.4H286"/>
<path class="p" d="M232,914.5H246M232,918H246"/><text x="250" y="916" style="font-size:7.5px">C17</text><text x="250" y="925" style="font-size:7.5px">100nF</text>
<use href="#xm" x="286" y="927.7"/><use href="#dot" x="239" y="936.9"/>
<path class="g" d="M215,932V942"/><text x="190" y="940" class="ks">+3V3</text>
<text x="250" y="944.5" class="s">STBY</text>
<use href="#al" x="237" y="955.4"/><text x="209" y="959" class="k">GND</text>

<!-- ===== U5 ===== -->
<text x="802.6" y="299" class="m">U5</text>
<text x="881" y="273.5" class="k m">GND</text><use href="#gu" x="881" y="290"/>
<path class="w" d="M881,290V303M881,308V318.9M845.7,318.9H973.3"/>
<path class="p" d="M874,303.8H888M874,307.5H888"/><text x="891" y="309" style="font-size:6.5px">C18</text><text x="891" y="318" style="font-size:6.5px">100nF</text>
<use href="#dot" x="881" y="318.9"/><path class="g" d="M973.3,314V324"/><text x="978" y="322" class="ks">+3V3</text>
<rect class="bx" x="779.6" y="309.7" width="55.3" height="101.4"/><circle cx="784" cy="314" r="1.5" fill="#a00"/>
<path class="p" d="M768.8,318.9H779.6M768.8,328.1H779.6M768.8,337.3H779.6M768.8,346.6H779.6M768.8,355.8H779.6M768.8,365H779.6M768.8,374.2H779.6M768.8,383.4H779.6M768.8,392.7H779.6M834.9,318.9H845.7M834.9,328.1H845.7M834.9,337.3H845.7M834.9,346.6H845.7M834.9,355.8H845.7M834.9,365H845.7M834.9,374.2H845.7M834.9,383.4H845.7M834.9,392.7H845.7M834.9,401.9H845.7"/>
<path class="q" d="M768.8,401.9H779.6"/>
<path class="w" d="M725.8,318.9H768.8M738,328.1H768.8M738,337.3H768.8M738,346.6H768.8M738,355.8H768.8M738,365H768.8M738,374.2H768.8M738,383.4H768.8M738,392.7H768.8M725.8,401.9H768.8M845.7,328.1H962.5M845.7,337.3H962.5M845.7,346.6H962.5M845.7,355.8H962.5M845.7,365H962.5M845.7,374.2H962.5M845.7,383.4H962.5M845.7,392.7H962.5M845.7,401.9H904"/>
<use href="#al" x="725.8" y="318.9"/><use href="#al" x="725.8" y="401.9"/>
<text x="699" y="323" class="k">GND</text><text x="699" y="406" class="k">GND</text>
<g style="font-size:8.5px"><text x="775" y="317.5" class="e" >1</text><text x="775" y="326.7" class="e">2</text><text x="775" y="336" class="e">3</text><text x="775" y="345" class="e">4</text><text x="775" y="354.4" class="e">5</text><text x="775" y="363.6" class="e">6</text><text x="775" y="372.8" class="e">7</text><text x="775" y="382" class="e">8</text><text x="775" y="391.3" class="e">9</text><text x="778" y="400.5" class="e bk">10</text>
<text x="836" y="317.5" class="rd">20</text><text x="836" y="326.7">19</text><text x="836" y="336">18</text><text x="836" y="345">17</text><text x="836" y="354.4">16</text><text x="836" y="363.6">15</text><text x="836" y="372.8">14</text><text x="836" y="382">13</text><text x="836" y="391.3">12</text><text x="836" y="400.5">11</text>
<text x="783" y="322">OE</text><text x="783" y="331.2">D0</text><text x="783" y="340.4">D1</text><text x="783" y="349.6">D2</text><text x="783" y="358.8">D3</text><text x="783" y="368">D4</text><text x="783" y="377.3">D5</text><text x="783" y="386.5">D6</text><text x="783" y="395.7">D7</text><text x="783" y="405" class="bk">GND</text>
<text x="831" y="322" class="e rd">VCC</text><text x="831" y="331.2" class="e">Q0</text><text x="831" y="340.4" class="e">Q1</text><text x="831" y="349.6" class="e">Q2</text><text x="831" y="358.8" class="e">Q3</text><text x="831" y="368" class="e">Q4</text><text x="831" y="377.3" class="e">Q5</text><text x="831" y="386.5" class="e">Q6</text><text x="831" y="395.7" class="e">Q7</text><text x="831" y="405" class="e">LE</text></g>
<g class="s"><text x="740" y="326.5" class="s">P00</text><text x="740" y="335.7" class="s">P01</text><text x="740" y="345" class="s">P02</text><text x="740" y="354.2" class="s">P03</text><text x="740" y="363.4" class="s">P04</text><text x="740" y="372.6" class="s">P05</text><text x="740" y="381.8" class="s">P06</text><text x="740" y="391" class="s">P07</text></g>
<rect class="rs" x="876.4" y="323.5" width="18.5" height="73.8"/><path class="p" d="M876.4,332.7H894.9M876.4,341.9H894.9M876.4,351.2H894.9M876.4,360.4H894.9M876.4,369.6H894.9M876.4,378.8H894.9M876.4,388H894.9"/>
<g style="font-size:8px"><text x="855" y="326.5">R13</text><text x="855" y="335.7">R14</text><text x="855" y="345">R15</text><text x="855" y="354.2">R16</text><text x="855" y="363.4">R17</text><text x="855" y="372.6">R18</text><text x="855" y="381.8">R19</text><text x="855" y="391">R20</text>
<text x="896.5" y="326.5">300R</text><text x="896.5" y="335.7">300R</text><text x="896.5" y="345">300R</text><text x="896.5" y="354.2">300R</text><text x="896.5" y="363.4">300R</text><text x="896.5" y="372.6">300R</text><text x="896.5" y="381.8">300R</text><text x="896.5" y="391">300R</text></g>
<g class="s"><text x="928.7" y="326.5" class="s">SEG_A</text><text x="928.7" y="335.7" class="s">SEG_B</text><text x="928.7" y="345" class="s">SEG_C</text><text x="928.7" y="354.2" class="s">SEG_D</text><text x="928.7" y="363.4" class="s">SEG_E</text><text x="928.7" y="372.6" class="s">SEG_F</text><text x="928.7" y="381.8" class="s">SEG_G</text><text x="928.7" y="391" class="s">SEG_DP</text></g>
<use href="#dot" x="867.2" y="401.9"/><path class="w" d="M867.2,401.9V415M867.2,418.5V432"/>
<path class="p" d="M860,415.1H874M860,418.2H874"/><text x="877" y="420" style="font-size:6.5px">C20</text><text x="877" y="428.5" style="font-size:6.5px">22pF</text>
<use href="#gd" x="867.2" y="432"/><text x="867" y="455" class="k m">GND</text>
<use href="#tagL" x="904" y="401.9"/><text x="924" y="405" class="s" style="font-size:9px">LE_SEG</text>
<text x="762.7" y="424">MC74HC573ADWR2G</text>

<!-- ===== U6 frame ===== -->
<rect x="576.6" y="484.9" width="387.4" height="179.9" fill="none" stroke="#555" stroke-width="1.3"/>
<text x="761" y="506" class="m">U6</text>
<rect class="bx" x="733.4" y="512.6" width="55.4" height="101.4"/><circle cx="738" cy="517" r="1.5" fill="#a00"/>
<path class="p" d="M722.6,521.8H733.4M722.6,531H733.4M722.6,540.2H733.4M722.6,549.5H733.4M722.6,558.7H733.4M722.6,567.9H733.4M722.6,577.1H733.4M722.6,586.3H733.4M722.6,595.6H733.4M788.8,521.8H799.5M788.8,531H799.5M788.8,540.2H799.5M788.8,549.5H799.5M788.8,558.7H799.5M788.8,567.9H799.5M788.8,577.1H799.5M788.8,586.3H799.5M788.8,595.6H799.5M788.8,604.9H799.5"/>
<path class="q" d="M722.6,604.9H733.4"/>
<path class="w" d="M722.6,521.8H710.3V508H701M710.3,531H722.6M710.3,540.2H722.6M710.3,549.5H722.6M710.3,558.7H722.6M710.3,567.9H722.6M710.3,577.1H722.6M710.3,586.3H722.6M710.3,595.6H722.6M701,604.9H722.6M799.5,521.8H881M799.5,531H816.4M799.5,540.2H816.4M799.5,549.5H816.4M799.5,558.7H816.4M799.5,567.9H816.4M799.5,577.1H816.4M799.5,586.3H816.4M799.5,595.6H816.4M799.5,604.9H834.9M816.4,504.3V521.8M821,604.9V616M821,620V637"/>
<use href="#al" x="701" y="508"/><use href="#al" x="701" y="604.9"/>
<text x="672" y="512" class="k">GND</text><text x="672" y="609" class="k">GND</text>
<g style="font-size:8.5px"><text x="729" y="520.5" class="e">1</text><text x="729" y="529.7" class="e">2</text><text x="729" y="539" class="e">3</text><text x="729" y="548" class="e">4</text><text x="729" y="557.3" class="e">5</text><text x="729" y="566.5" class="e">6</text><text x="729" y="575.7" class="e">7</text><text x="729" y="585" class="e">8</text><text x="729" y="594.2" class="e">9</text><text x="732" y="603.5" class="e bk">10</text>
<text x="790" y="520.5" class="rd">20</text><text x="790" y="529.7">19</text><text x="790" y="539">18</text><text x="790" y="548">17</text><text x="790" y="557.3">16</text><text x="790" y="566.5">15</text><text x="790" y="575.7">14</text><text x="790" y="585">13</text><text x="790" y="594.2">12</text><text x="790" y="603.5">11</text>
<text x="737" y="525">OE</text><text x="737" y="534.2">D0</text><text x="737" y="543.4">D1</text><text x="737" y="552.6">D2</text><text x="737" y="561.8">D3</text><text x="737" y="571">D4</text><text x="737" y="580.3">D5</text><text x="737" y="589.5">D6</text><text x="737" y="598.7">D7</text><text x="737" y="608" class="bk">GND</text>
<text x="785" y="525" class="e rd">VCC</text><text x="785" y="534.2" class="e">Q0</text><text x="785" y="543.4" class="e">Q1</text><text x="785" y="552.6" class="e">Q2</text><text x="785" y="561.8" class="e">Q3</text><text x="785" y="571" class="e">Q4</text><text x="785" y="580.3" class="e">Q5</text><text x="785" y="589.5" class="e">Q6</text><text x="785" y="598.7" class="e">Q7</text><text x="785" y="608" class="e">LE</text></g>
<g class="s"><text x="695" y="529" class="s">P00</text><text x="695" y="538.2" class="s">P01</text><text x="695" y="547.4" class="s">P02</text><text x="695" y="556.6" class="s">P03</text><text x="695" y="565.8" class="s">P04</text><text x="695" y="575" class="s">P05</text><text x="695" y="584.3" class="s">P06</text><text x="695" y="593.5" class="s">P07</text>
<text x="818" y="529.5" class="s">COM1</text><text x="818" y="538.7" class="s">COM2</text><text x="818" y="548" class="s">COM3</text><text x="818" y="557.2" class="s">COM4</text><text x="818" y="566.4" class="s">COM5</text><text x="818" y="575.6" class="s">COM6</text><text x="818" y="584.8" class="s">COM7</text><text x="818" y="594" class="s">COM8</text></g>
<path class="g" d="M811.4,504.3H821.4"/><text x="816" y="500" class="ks m">+3V3</text>
<use href="#dot" x="816.4" y="521.8"/>
<rect x="853" y="515" width="9" height="13" fill="#fff"/><path class="p" d="M854.9,515V528.5M859.5,515V528.5"/>
<text x="852" y="503" style="font-size:7px">C19</text><text x="852" y="511" style="font-size:7px">100nF</text>
<use href="#ar" x="881" y="521.8"/><text x="888" y="526" class="k">GND</text>
<use href="#dot" x="821" y="604.9"/><use href="#tagL" x="834.9" y="604.9"/><text x="855" y="608" class="s" style="font-size:9px">LE_COM</text>
<path class="p" d="M814,616.5H828M814,620H828"/><text x="830" y="621" style="font-size:7px">C26</text><text x="830" y="629.5" style="font-size:7px">22pF</text>
<use href="#gd" x="821" y="637"/><text x="821" y="659" class="k m">GND</text>
<text x="722" y="627">MC74HC573ADWR2G</text>
<text x="783" y="689" class="m" style="font-size:11px">数码管驱动电路设计区</text>

<!-- ===== CN3 ===== -->
<text x="1024.6" y="425">CN3</text>
<rect class="bx" x="1024" y="429.9" width="18.4" height="83" rx="3"/><circle cx="1040" cy="434" r="1.5" fill="#a00"/>
<g style="font-size:8px"><text x="1032" y="441" class="m">1</text><text x="1032" y="450" class="m">2</text><text x="1032" y="459.5" class="m">3</text><text x="1032" y="468.5" class="m">4</text><text x="1032" y="478" class="m">5</text><text x="1032" y="487" class="m">6</text><text x="1032" y="496" class="m">7</text><text x="1032" y="505.5" class="m">8</text>
<text x="1044" y="437">1</text><text x="1044" y="446">2</text><text x="1044" y="455.5">3</text><text x="1044" y="464.5">4</text><text x="1044" y="474">5</text><text x="1044" y="483">6</text><text x="1044" y="492">7</text><text x="1044" y="501.5">8</text></g>
<path class="p" d="M1042.4,438.8H1051M1042.4,448H1051M1042.4,457.3H1051M1042.4,466.5H1051M1042.4,475.7H1051M1042.4,484.9H1051M1042.4,494.2H1051M1042.4,503.4H1051"/>
<path class="w" d="M1051,438.8H1097.8M1051,448H1097.8M1051,457.3H1097.8M1051,466.5H1097.8M1051,475.7H1097.8M1051,484.9H1097.8M1051,503.4H1107"/>
<use href="#xm" x="1052" y="494.2"/>
<g class="s"><text x="1081" y="436.5" class="s m">SW1</text><text x="1081" y="445.7" class="s m">SW2</text><text x="1081" y="455" class="s m">SW3</text><text x="1081" y="464.2" class="s m">SW4</text><text x="1075" y="473.4" class="s m">DIN_COM</text><text x="1081" y="482.6" class="s m">GND</text></g>
<path class="g" d="M1107,498V509"/><text x="1109.5" y="507" class="k">DC_IN</text>
<text x="1016" y="527">XH-8-2.54MM</text>

<!-- ===== Optocouplers ===== -->
<g id="opto">
<path class="w" d="M1173,369.6H1230.6M1250,369.6H1282M1173,388H1282M1346,369.6H1410M1365.3,369.6V352.1H1388M1407,352.1H1443M1346,388H1397.5"/>
<path class="p" d="M1282,369.6H1291.5M1282,388H1291.5M1337.6,369.6H1346M1337.6,388H1346"/>
<rect class="rs" x="1230.6" y="366.3" width="19.4" height="6.5"/>
<rect class="rs" x="1388" y="348.8" width="19" height="6.5"/>
<rect class="bx" x="1291.5" y="362.8" width="46.1" height="32.3"/>
<path d="M1297,375H1307L1302,383Z" fill="#a00"/><path stroke="#a00" stroke-width="1.3" d="M1296,383H1308M1302,369.6V375M1302,383V388M1310,378L1314,382M1310,382L1314,386M1318,373V388M1318,378L1326,371V369.6M1318,383L1326,390"/>
<path d="M1322,388L1327,391L1323,385Z" fill="#a00"/>
<use href="#dot" x="1365.3" y="369.6"/>
<path class="g" d="M1443,347V357"/><text x="1448" y="355" class="ks">+3V3</text>
<use href="#tagL" x="1410" y="369.6"/>
<use href="#ar" x="1397.5" y="388"/><text x="1408" y="392" class="k">GND</text>
<text x="1173" y="390" class="s" dy="-4">DIN_COM</text>
<text x="1286" y="368" style="font-size:7px">1</text><text x="1286" y="386" style="font-size:7px">2</text><text x="1340" y="368" style="font-size:7px">4</text><text x="1340" y="386" style="font-size:7px">3</text>
</g>
<g transform="translate(0,69.2)"><use href="#opto"/></g>
<g transform="translate(0,137.6)"><use href="#opto"/></g>
<g transform="translate(0,211.3)"><use href="#opto"/></g>
<text x="1173" y="367" class="s">SW1</text><text x="1210" y="367">R30</text><text x="1252" y="367">510R</text><text x="1310" y="358" class="m">U7</text><text x="1309" y="406" class="m">TLP521</text><text x="1390" y="346">R31</text><text x="1389" y="339">510R</text><text x="1431" y="372.5" class="s" style="font-size:9px">DIN_1</text>
<text x="1173" y="436.2" class="s">SW2</text><text x="1210" y="436.2">R35</text><text x="1252" y="436.2">510R</text><text x="1310" y="427.2" class="m">U8</text><text x="1309" y="475.2" class="m">TLP521</text><text x="1372" y="419">R34</text><text x="1410" y="419">510R</text><text x="1431" y="441.7" class="s" style="font-size:9px">DIN_2</text>
<text x="1173" y="504.6" class="s">SW3</text><text x="1210" y="504.6">R36</text><text x="1252" y="504.6">510R</text><text x="1310" y="495.6" class="m">U9</text><text x="1309" y="543.6" class="m">TLP521</text><text x="1372" y="487.5">R37</text><text x="1410" y="487.5">510R</text><text x="1431" y="510.1" class="s" style="font-size:9px">DIN_3</text>
<text x="1173" y="578.3" class="s">SW4</text><text x="1210" y="578.3">R39</text><text x="1252" y="578.3">510R</text><text x="1310" y="569.3" class="m">U11</text><text x="1309" y="617.3" class="m">TLP521</text><text x="1372" y="561">R38</text><text x="1410" y="561">510R</text><text x="1431" y="583.8" class="s" style="font-size:9px">DIN_4</text>

<!-- ===== U3 TB6612 ===== -->
<text x="1259.3" y="658" class="m">U3</text>
<rect class="bx" x="1222" y="662.7" width="74" height="123"/><circle cx="1227" cy="668" r="1.5" fill="#a00"/>
<path class="p" d="M1213,675H1222M1213,684.2H1222M1213,711.9H1222M1213,721.1H1222M1213,730.4H1222M1213,739.6H1222M1213,767.3H1222M1213,776.5H1222M1296,675H1305.4M1296,684.2H1305.4M1296,693.5H1305.4M1296,702.7H1305.4M1296,711.9H1305.4M1296,721.1H1305.4M1296,739.6H1305.4M1296,748.8H1305.4M1296,758H1305.4M1296,767.3H1305.4M1296,776.5H1305.4"/>
<path class="q" d="M1213,693.5H1222M1213,702.7H1222M1213,748.8H1222M1213,758H1222M1296,730.4H1305.4"/>
<g style="font-size:8.5px"><text x="1219" y="673.5" class="e">1</text><text x="1219" y="682.7" class="e">2</text><text x="1219" y="692" class="e bk">3</text><text x="1219" y="701.2" class="e bk">4</text><text x="1219" y="710.4" class="e">5</text><text x="1219" y="719.6" class="e">6</text><text x="1219" y="728.9" class="e">7</text><text x="1219" y="738.1" class="e">8</text><text x="1219" y="747.3" class="e bk">9</text><text x="1221" y="756.5" class="e bk">10</text><text x="1221" y="765.8" class="e">11</text><text x="1221" y="775" class="e">12</text>
<text x="1298" y="673.5">24</text><text x="1298" y="682.7">23</text><text x="1298" y="692">22</text><text x="1298" y="701.2">21</text><text x="1298" y="710.4" class="rd">20</text><text x="1298" y="719.6">19</text><text x="1298" y="728.9" class="bk">18</text><text x="1298" y="738.1">17</text><text x="1298" y="747.3">16</text><text x="1298" y="756.5">15</text><text x="1298" y="765.8">14</text><text x="1298" y="775">13</text>
<text x="1226" y="678">AO1</text><text x="1226" y="687.2">AO1</text><text x="1226" y="696.5" class="bk">PGND1</text><text x="1226" y="705.7" class="bk">PGND1</text><text x="1226" y="714.9">AO2</text><text x="1226" y="724.1">AO2</text><text x="1226" y="733.4">BO2</text><text x="1226" y="742.6">BO2</text><text x="1226" y="751.8" class="bk">PGND2</text><text x="1226" y="761" class="bk">PGND2</text><text x="1226" y="770.3">BO1</text><text x="1226" y="779.5">BO1</text>
<text x="1293" y="678" class="e">VM1</text><text x="1293" y="687.2" class="e">PWMA</text><text x="1293" y="696.5" class="e">AIN2</text><text x="1293" y="705.7" class="e">AIN1</text><text x="1293" y="714.9" class="e rd">VCC</text><text x="1293" y="724.1" class="e">STBY</text><text x="1293" y="733.4" class="e bk">GND</text><text x="1293" y="742.6" class="e">BIN1</text><text x="1293" y="751.8" class="e">BIN2</text><text x="1293" y="761" class="e">PWMB</text><text x="1293" y="770.3" class="e">VM3</text><text x="1293" y="779.5" class="e">VM2</text></g>
<text x="1221" y="798">TB6612FNG,C,8,EL</text>
<path class="w" d="M1055.6,673.5H1088M1104,675H1213M1148.2,675V684.2H1213M1055.6,673.5V720.2H1213M1148.2,711.9H1213M1148.2,711.9V721.1M1129.8,693.5H1213M1129.8,702.7H1213M1129.8,748.8H1213M1129.8,758H1213M1129.8,693.5V758M1096,702.7H1129.8M1096,748.8H1129.8M1055.6,729.4H1213M1148.2,730.4V739.6H1213M1055.6,729.4V775.6H1088M1104,776.5H1213M1148.2,767.3H1213M1148.2,767.3V776.5"/>
<use href="#dot" x="1148.2" y="675"/><use href="#dot" x="1148.2" y="720.2"/><use href="#dot" x="1148.2" y="730.4"/><use href="#dot" x="1148.2" y="776.5"/><use href="#dot" x="1129.8" y="702.7"/><use href="#dot" x="1129.8" y="748.8"/>
<circle cx="1096.2" cy="673.5" r="8" fill="#fff" stroke="#33c" stroke-width="1.1"/><text x="1096.2" y="677" class="s m" style="font-size:9px">M</text>
<circle cx="1096.2" cy="772.5" r="8" fill="#fff" stroke="#33c" stroke-width="1.1"/><text x="1096.2" y="776" class="s m" style="font-size:9px">M</text>
<text x="1070" y="672">M1</text><text x="1110" y="672">Motor</text><text x="1070" y="771">M2</text><text x="1110" y="771">Motor</text>
<use href="#al" x="1096" y="702.7"/><use href="#al" x="1096" y="748.8"/>
<text x="1066" y="707" class="k">GND</text><text x="1066" y="753" class="k">GND</text>
<path class="w" d="M1305.4,675H1332.8V776.5M1305.4,767.3H1332.8M1305.4,776.5H1443.8M1305.4,684.2H1435.6M1305.4,693.5H1435.6M1305.4,702.7H1435.6M1305.4,739.6H1435.6M1305.4,748.8H1435.6M1305.4,758H1435.6M1305.4,711.9H1402.6M1374.6,711.9V724.8H1408M1417,724.8H1460M1305.4,721.1H1341.7M1305.4,730.4H1353.2M1360.4,776.5V789M1360.4,797V815M1397,776.5V789M1397,797V815"/>
<use href="#dot" x="1332.8" y="767.3"/><use href="#dot" x="1332.8" y="776.5"/><use href="#dot" x="1360.4" y="776.5"/><use href="#dot" x="1397" y="776.5"/><use href="#dot" x="1374.6" y="711.9"/>
<text x="1307" y="719" class="s">STBY</text>
<use href="#tagL" x="1435.6" y="684.2"/><use href="#tagL" x="1435.6" y="693.5"/><use href="#tagL" x="1435.6" y="702.7"/><use href="#tagL" x="1435.6" y="739.6"/><use href="#tagL" x="1435.6" y="748.8"/><use href="#tagL" x="1435.6" y="758"/>
<g class="s" style="font-size:9px"><text x="1455.3" y="687.5" class="s">M1_PWM</text><text x="1455.3" y="696.7" class="s">M1_IN2</text><text x="1455.3" y="706" class="s">M1_IN1</text><text x="1455.3" y="742.9" class="s">M2_IN1</text><text x="1455.3" y="752.1" class="s">M2_IN2</text><text x="1455.3" y="761.3" class="s">M2_PWM</text></g>
<path class="g" d="M1402.6,707V717"/><text x="1404" y="715" class="k">+3V3</text>
<rect x="1409" y="718" width="8" height="13" fill="#fff"/><path class="p" d="M1410.5,718.5V731M1414.5,718.5V731M1399,724.8H1409M1417,724.8H1427"/>
<text x="1391" y="721">C16</text><text x="1418" y="721">100nF</text>
<use href="#ar" x="1460" y="724.8"/><text x="1471" y="729" class="k">GND</text>
<use href="#ar" x="1353.2" y="730.4"/><text x="1365" y="734" class="k">GND</text>
<path class="g" d="M1443.8,771V782"/><text x="1447" y="780" class="k">DC_IN</text>
<path class="p" d="M1353.5,790.4H1367.5M1390,790.4H1404"/><path d="M1353.5,795H1367.5V797.5H1353.5ZM1390,795H1404V797.5H1390Z" fill="#a00"/>
<text x="1357" y="788" class="rd" style="font-size:7px">+</text><text x="1394" y="788" class="rd" style="font-size:7px">+</text>
<text x="1370" y="796">C12</text><text x="1370" y="804">47u</text><text x="1406" y="796">C13</text><text x="1406" y="804">47u</text>
<use href="#gd" x="1360.4" y="815"/><use href="#gd" x="1397" y="815"/>
<text x="1360" y="837" class="k m">GND</text><text x="1397" y="837" class="k m">GND</text>

<!-- ===== U12 ===== -->
<text x="912" y="751" class="m">U12</text>
<rect class="bx" x="890.2" y="757" width="46.1" height="46.2"/><circle cx="894" cy="761" r="1.5" fill="#a00"/>
<path class="p" d="M880,767.2H890.2M880,776.4H890.2M880,785.6H890.2M936.3,767.2H946M936.3,776.4H946M936.3,785.6H946M936.3,794.9H946"/><path class="q" d="M880,794.9H890.2"/>
<g style="font-size:8.5px"><text x="886" y="765.5" class="e">1</text><text x="886" y="774.7" class="e">2</text><text x="886" y="784" class="e">3</text><text x="886" y="793.3" class="e bk">4</text>
<text x="938" y="765.5" class="rd">8</text><text x="938" y="774.7">7</text><text x="938" y="784">6</text><text x="938" y="793.3">5</text>
<text x="893" y="770.5">A0</text><text x="893" y="779.7">A1</text><text x="893" y="789">A2</text><text x="893" y="798.2" class="bk">GND</text>
<text x="933" y="770.5" class="e rd">VCC</text><text x="933" y="779.7" class="e">WP</text><text x="933" y="789" class="e">SCL</text><text x="933" y="798.2" class="e">SDA</text></g>
<path class="w" d="M853.3,767.2H880M853.3,776.4H880M853.3,785.6H880M821,794.9H880M853.3,767.2V794.9M946,767.2H1001M946,776.4H991.7M946,785.6H991.7M946,794.9H991.7"/>
<use href="#dot" x="853.3" y="776.4"/><use href="#dot" x="853.3" y="785.6"/><use href="#dot" x="853.3" y="794.9"/>
<use href="#al" x="821" y="794.9"/><text x="790" y="799" class="k">GND</text>
<path class="g" d="M1001,762V772"/><text x="1005" y="770" class="ks">+3V3</text>
<text x="970" y="774.5" class="s" style="font-size:7.5px">GND</text><text x="970" y="783.7" class="s" style="font-size:7.5px">SCL</text><text x="970" y="793" class="s" style="font-size:7.5px">SDA</text>
<text x="890" y="815">AT24C02BN</text>

<!-- ===== U4 PCF8563 ===== -->
<text x="784" y="850" class="k m">GND</text><use href="#gu" x="784" y="870"/>
<path class="w" d="M784,870V894M784,898V924H880M784,913.9H821M830.3,913.9H880M845.6,941.9H880"/>
<path class="p" d="M777,894.8H791M777,897.9H791"/><text x="793" y="897">C14</text><text x="793" y="906">12p</text>
<use href="#dot" x="784" y="913.9"/>
<rect x="822" y="908" width="7.5" height="12" fill="#fff" stroke="#a44" stroke-width="1.2"/><path class="p" d="M820,907V921M831.5,907V921"/>
<text x="807" y="911">X2</text><text x="831.8" y="911">32.768KHz</text>
<use href="#al" x="845.6" y="941.9"/><text x="813" y="946" class="k">GND</text>
<use href="#xm" x="876" y="932.6"/>
<text x="927" y="899" class="m">U4</text>
<rect class="bx" x="885.6" y="902.5" width="83" height="47.7" stroke="#444"/><circle cx="890" cy="907" r="1.5" fill="#a00"/>
<path class="q" d="M876,913.9H885.6M876,924H885.6M876,932.6H885.6M876,941.9H885.6M968.6,913.9H978M968.6,924H978M968.6,932.6H978M968.6,941.9H978"/>
<g style="font-size:8.5px"><text x="883" y="912" class="e">1</text><text x="883" y="922.5" class="e">2</text><text x="883" y="931" class="e">3</text><text x="883" y="940.5" class="e">4</text>
<text x="970" y="912" class="rd">8</text><text x="970" y="922.5">7</text><text x="970" y="931">6</text><text x="970" y="940.5">5</text>
<text x="889" y="917">OSCI</text><text x="889" y="927">OSCO</text><text x="889" y="936">INT#</text><text x="889" y="945">VSS</text>
<text x="965" y="917" class="e rd">VDD</text><text x="965" y="927" class="e">CLKOUT</text><text x="965" y="936" class="e">SCL</text><text x="965" y="945" class="e">SDA</text></g>
<text x="926" y="963" class="m">PCF8563T</text>
<use href="#xm" x="981" y="924"/>
<path class="w" d="M908.7,881.6H1111.6M991.7,881.6V913.9M978,913.9H1077.8M978,932.6H1028.6M978,941.9H1028.6M1047,932.6H1070M1047,941.9H1070V932.6M1070,932.6H1093"/>
<path class="g" d="M908.7,876V887"/><text x="878" y="886" class="k">+3V3</text>
<rect x="949" y="875" width="12" height="13" fill="#fff"/><path d="M950,876.5V886.5L959.4,881.6Z" fill="#fff" stroke="#a00" stroke-width="1.2"/><path stroke="#a00" stroke-width="1.2" d="M959.4,876V887"/>
<rect x="1014" y="875" width="12" height="13" fill="#fff"/><path d="M1025,876.5V886.5L1015.6,881.6Z" fill="#fff" stroke="#a00" stroke-width="1.2"/><path stroke="#a00" stroke-width="1.2" d="M1015.6,876V887"/>
<text x="935" y="879">D2</text><text x="1005" y="879">D3</text>
<use href="#dot" x="991.7" y="881.6"/><use href="#dot" x="991.7" y="913.9"/><use href="#dot" x="1070" y="932.6"/>
<rect x="1067" y="874" width="15" height="15" fill="#fff"/><path class="p" d="M1070,876V887.5M1073,874V889M1076,876V887.5M1079.3,874V889"/>
<text x="1047" y="879">B1</text><text x="1060" y="879" class="bk">1</text><text x="1084" y="879" class="bk">2</text>
<use href="#ar" x="1111.6" y="881.6"/><text x="1122" y="886" class="k">GND</text>
<rect x="1019" y="907" width="9" height="14" fill="#fff"/><path class="p" d="M1021,907V921"/><path d="M1024.5,907H1026.5V921H1024.5Z" fill="#a00"/>
<text x="998" y="911">C15+</text><text x="1031.7" y="911">10u</text>
<use href="#ar" x="1077.8" y="913.9"/><text x="1086" y="918" class="k">GND</text>
<rect class="rs" x="1028.6" y="929.3" width="18.4" height="6.6"/><rect class="rs" x="1028.6" y="938.6" width="18.4" height="6.6"/>
<text x="984" y="931" class="s">SCL</text><text x="984" y="940" class="s">SDA</text><text x="1007" y="931">R32</text><text x="1007" y="940">R33</text><text x="1050" y="929">10k</text><text x="1050" y="940">10k</text>
<path class="g" d="M1093,927V938"/><text x="1099" y="936" class="k">+3V3</text>
</svg>
</body></html>
